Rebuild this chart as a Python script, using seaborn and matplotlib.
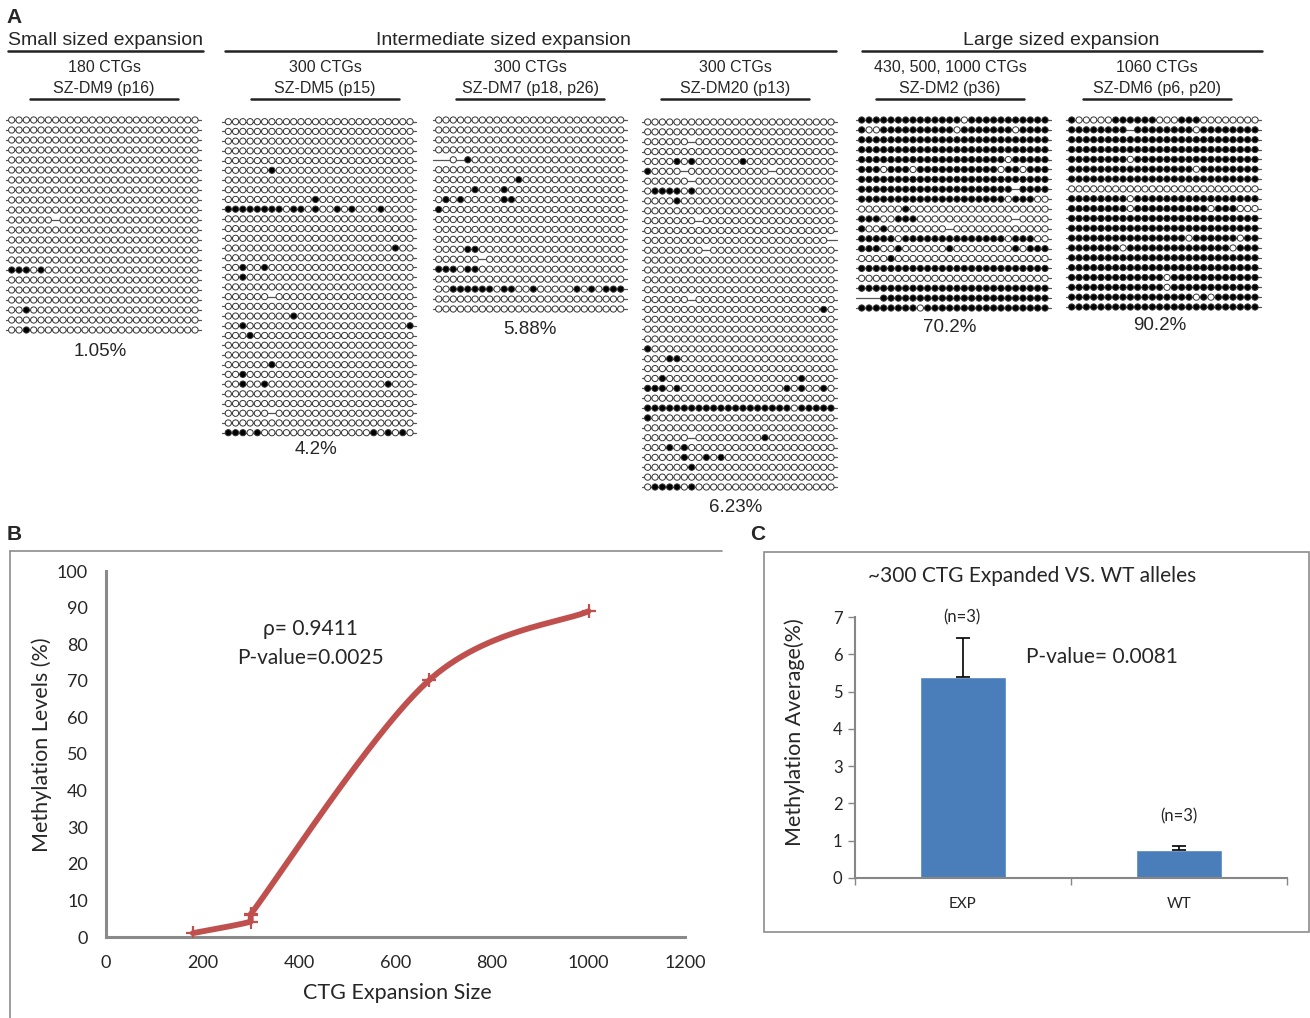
import numpy as np
import pandas as pd
import matplotlib
matplotlib.use("Agg")
import matplotlib.pyplot as plt
from matplotlib.patches import Rectangle
import seaborn as sns

sns.set_style("white")
plt.rcParams["font.family"] = ["Liberation Sans", "DejaVu Sans"]

# ---------------- panel A: bisulfite clones ----------------
# '#' methylated CpG, '.' unmethylated CpG, '-' no data (line only)
O = "....." "....." "....." "....." "....." "."
F = "#####" "#####" "#####" "#####" "#####" "#"
M6 = "....." ".-..." "....." "....." "....." "."

dm9 = [
    O, O, O, O, O, O, O, O, O, O,
    M6,
    O, O, O, O,
    "###.#" "....." "....." "....." "....." ".",
    O, O, O,
    "..#.." "....." "....." "....." "....." ".",
    O,
    "..#.." "....." "....." "....." "....." ".",
]

dm5 = [
    O, O, O, O, O,
    "....." ".#..." "....." "....." "....." ".",
    O, O,
    "....." "....." "..#.." "....." "....." ".",
    "#####" "###.#" "#.#.." "#.#.." ".#..." ".",
    O, O, O,
    "....." "....." "....." "....." "...#." ".",
    O,
    "..#.." "#...." "....." "....." "....." ".",
    "..#.." "....." "....." "....." "....." ".",
    O,
    M6,
    O,
    "....." "....#" "....." "....." "....." ".",
    "..#.." "....." "....." "....." "....." "#",
    "...#." "....." "....." "....." "....." ".",
    O, O,
    "....." ".#..." "....." "....." "....." ".",
    "..#.." "....." "....." "....." "....." ".",
    "..#.." "#...." "....." "....." "..#.." ".",
    O, O,
    M6,
    O,
    "###.#" "....." "....." "....." "#.#.#" ".",
]

dm7 = [
    O, O, O, O,
    "--.-#" "....." "....." "....." "....." ".",
    O,
    "....." "....." ".#..." "....." "....." ".",
    "....." "#...#" "....." "....." "....." ".",
    ".#.#." "....#" "#...." "....." "....." ".",
    "#...." "....." "....." "....." "....." ".",
    O, O, O,
    "....#" "#...." "....." "....." "....." ".",
    M6,
    "###.#" "#...." "....." "....." "....." ".",
    O,
    "..###" "###.#" "#..#." "....#" ".#.##" "#",
    O, O,
]

dm20 = [
    O, O,
    M6,
    O,
    "....#" ".#..." "...#." "....." "....." ".",
    "#...." "-...." "....." "..-.." "....." ".",
    M6,
    ".####" ".#..." "....." "....." "....." ".",
    "....#" "....." "....." "....." "....." ".",
    O,
    "....." "..-.." "....." "....." "....." ".",
    O,
    "....." "....." "....." "....." "....." "-",
    "....." "...-." "....." "....." "....." ".",
    O, O, O, O,
    M6,
    "....." "....." "....." "....." "....#" ".",
    O, O, O,
    "#...." "....." "....." "....." "....." ".",
    "...##" "....." "....." "....." "....." ".",
    O,
    "..#.." "....." "....." "....." ".#..." ".",
    "###.#" "....." "....." "....#" ".#..#" ".",
    O,
    "#####" "#####" "#####" "#####" ".####" "#",
    "#...." "....." "....." "....." "....." ".",
    O,
    "....." ".-..." "....." ".#..." "....." ".",
    "...#." "#...." "....." "....." "....." ".",
    "....." "#..#." "#...." "....." "....." ".",
    "....." ".#..." "....." "....." "....." ".",
    O,
    ".####" ".#..." "....." "....." "....." ".",
]

dm2 = [
    "#####" "#####" "####." "#####" "#####" "#",
    "#..##" "#####" "###.#" "#####" "#.###" "#",
    F, F,
    "#####" "#####" "#####" "#####" ".####" "#",
    "###.#" "##.##" "#####" "####." "##.##" "#",
    F,
    "#####" "#####" "#####" "#####" "#-###" "#",
    "#####" "#####" "#####" "#####" ".###." ".",
    "....." ".#..." "....." "....." "....." ".",
    "###.." "###.." "....." "....." ".-..." ".",
    "#..#." "....." "..-.." "....." "....." ".",
    "#####" ".####" "#####" "#####" ".###." ".",
    "###.." "#...." "..#.." "....." ".#.##" "#",
    "....#" "....." "....." "....." "....." ".",
    F, O, F,
    "---##" "#####" "#####" "#####" "#####" "#",
    "#####" "###.#" "#####" "#####" "#####" "#",
]

dm6 = [
    "#...." ".####" "##..." "###.." "....." ".",
    "#####" "###-#" "#####" "##.##" "#####" "#",
    F, F,
    "#####" "###.#" "#####" "#####" "#####" "#",
    "#####" "#####" "#####" "##.##" "#####" "#",
    F, O,
    "#####" "###.#" "#####" "#####" "#####" "#",
    "#####" "###.#" "#####" "####." "###.." ".",
    F, F,
    "#####" "#####" "#####" "#.###" "###.#" "#",
    "#####" "##.##" "#####" "#####" "##.##" "#",
    F, F,
    "#####" "#####" "###.#" "#####" "#####" "#",
    "#####" "#####" "###.#" "#####" "#####" "#",
    "#####" "#####" "#####" "##.#." "#####" "#",
    F,
]

clone_groups = [dm9, dm5, dm7, dm20, dm2, dm6]
group_pct = ["1.05%", "4.2%", "5.88%", "6.23%", "70.2%", "90.2%"]
group_ctg = ["180 CTGs", "300 CTGs", "300 CTGs", "300 CTGs", "430, 500, 1000 CTGs", "1060 CTGs"]
group_name = ["SZ-DM9 (p16)", "SZ-DM5 (p15)", "SZ-DM7 (p18, p26)", "SZ-DM20 (p13)",
              "SZ-DM2 (p36)", "SZ-DM6 (p6, p20)"]
size_classes = ["Small sized expansion", "Intermediate sized expansion", "Large sized expansion"]

# ---------------- panel B ----------------
ctg_size = [180, 300, 300, 300, 670, 1000]
meth_level = [1.05, 4.2, 5.88, 6.23, 70.2, 89.0]
rho_text = "\u03c1= 0.9411"
pval_b = "P-value=0.0025"

# ---------------- panel C ----------------
alleles = ["EXP", "WT"]
meth_avg = [5.4, 0.75]
meth_err = [1.05, 0.1]
n_labels = ["(n=3)", "(n=3)"]
pval_c = "P-value= 0.0081"
title_c = "~300 CTG Expanded VS. WT alleles"

bad = [i for g in clone_groups for i, r in enumerate(g) if len(r) != 26]
assert not bad, bad

W, H = 1310, 1018
fig = plt.figure(figsize=(W / 100, H / 100), dpi=100)


def px_axes(left, top, right, bottom):
    return fig.add_axes([left / W, 1 - bottom / H, (right - left) / W, (bottom - top) / H])


ov = px_axes(0, 0, W, H)
ov.set_xlim(0, W)
ov.set_ylim(H, 0)
ov.axis("off")

# panel labels
for lab, (x, y) in zip("ABC", [(14, 17), (14, 535), (758, 535)]):
    ov.text(x, y, lab, fontsize=15, weight="bold", ha="center", va="center")

# size class headers
for txt, (x, x0, x1), in zip(size_classes, [(105, 8, 203), (503, 225, 836), (1061, 862, 1262)]):
    ov.text(x, 40, txt, fontsize=14, ha="center", va="center")
    ov.plot([x0, x1], [51, 51], color="#222222", lw=1.8)

sub_cx = [104, 325, 530, 735, 950, 1157]
for cx, ctg, name in zip(sub_cx, group_ctg, group_name):
    ov.text(cx, 67, ctg, fontsize=11.5, ha="center", va="center")
    ov.text(cx, 88, name, fontsize=11.5, ha="center", va="center")
    ov.plot([cx - 74, cx + 74], [99, 99], color="#222222", lw=1.8)

pct_xy = [(100, 351), (316, 450), (530, 330), (736, 508), (950, 328), (1160, 326)]
for pct, (x, y) in zip(group_pct, pct_xy):
    ov.text(x, y, pct, fontsize=13.5, ha="center", va="center")

# x of first/last CpG, y of first/last clone (pixels)
group_box = [(11.7, 195, 120, 330), (228.3, 410, 121.7, 432.7), (438.7, 620.7, 120, 309),
             (647.7, 831, 122, 487), (861.7, 1045, 120, 308), (1071.7, 1255, 120, 307)]

for clones, (x0, x1, y0, y1) in zip(clone_groups, group_box):
    ncol = len(clones[0])
    nrow = len(clones)
    dx = (x1 - x0) / (ncol - 1)
    dy = (y1 - y0) / (nrow - 1)
    ax = px_axes(x0 - dx / 2, y0 - dy / 2, x1 + dx / 2, y1 + dy / 2)
    recs = [(c, r, s) for r, row in enumerate(clones) for c, s in enumerate(row) if s != "-"]
    df = pd.DataFrame(recs, columns=["site", "clone", "state"])
    for r in range(nrow):
        ax.plot([-0.8, ncol - 0.2], [r, r], color="#555555", lw=0.9, zorder=1, clip_on=False)
    sns.scatterplot(data=df, x="site", y="clone", hue="state",
                    palette={"#": "black", ".": "white"}, s=20, edgecolor="#333333",
                    linewidth=0.7, legend=False, ax=ax, zorder=2, clip_on=False)
    ax.set_xlim(-0.5, ncol - 0.5)
    ax.set_ylim(nrow - 0.5, -0.5)
    ax.axis("off")

# ---------------- panel B: smoothed scatter ----------------
ov.plot([10, 722], [551, 551], color="#8c8c8c", lw=1.2)
ov.plot([10, 10], [551, H], color="#8c8c8c", lw=1.2)

axb = px_axes(106, 571, 685, 937)
px = np.array(ctg_size, float)
py = np.array(meth_level, float)
t = np.linspace(0, 1, 60)[:, None]
seg = []
for i in range(len(px) - 1):
    a, b = max(i - 1, 0), min(i + 2, len(px) - 1)
    p0 = np.array([px[i], py[i]])
    p3 = np.array([px[i + 1], py[i + 1]])
    c1 = p0 + (p3 - np.array([px[a], py[a]])) / 6
    c2 = p3 - (np.array([px[b], py[b]]) - p0) / 6
    lo = np.minimum(p0, p3)
    hi = np.maximum(p0, p3)
    c1 = np.clip(c1, lo, hi)
    c2 = np.clip(c2, lo, hi)
    seg.append((1 - t) ** 3 * p0 + 3 * (1 - t) ** 2 * t * c1 + 3 * (1 - t) * t ** 2 * c2 + t ** 3 * p3)
curve = np.vstack(seg)
sns.lineplot(x=curve[:, 0], y=curve[:, 1], sort=False, estimator=None,
             color="#c0504d", lw=4.2, ax=axb)
sns.scatterplot(x=ctg_size, y=meth_level, marker="+", s=110, color="#c0504d",
                linewidth=1.6, ax=axb, zorder=3)
axb.set_xlim(0, 1200)
axb.set_ylim(0, 100)
axb.set_xticks(range(0, 1201, 200))
axb.set_yticks(range(0, 101, 10))
axb.tick_params(length=0, pad=13, labelsize=13)
for s in ["top", "right"]:
    axb.spines[s].set_visible(False)
for s in ["left", "bottom"]:
    axb.spines[s].set_color("#8a8a8a")
    axb.spines[s].set_linewidth(2.2)
for lbl in axb.get_xticklabels() + axb.get_yticklabels():
    lbl.set_fontfamily("Lato")
axb.patch.set_alpha(0)

ov.text(310, 629, rho_text, fontsize=15, ha="center", va="center", family=["Lato", "DejaVu Sans"])
ov.text(310, 658, pval_b, fontsize=15, ha="center", va="center", family="Lato")
ov.text(397, 993, "CTG Expansion Size", fontsize=15.5, ha="center", va="center", family="Lato")
ov.text(42, 745, "Methylation Levels (%)", fontsize=15.5, ha="center", va="center",
        rotation=90, family="Lato")

# ---------------- panel C: bar chart ----------------
ov.add_patch(Rectangle((764, 552), 545, 380, fill=False, ec="#8c8c8c", lw=1.2))

axc = px_axes(855, 617, 1287, 878)
sns.barplot(x=alleles, y=meth_avg, color="#4a7ebb", saturation=1, width=0.4, ax=axc)
axc.errorbar(range(len(alleles)), meth_avg, yerr=[[0] * len(meth_err), meth_err], fmt="none",
             ecolor="black", elinewidth=1.2, capsize=5, capthick=1.2, zorder=3)
axc.set_xlim(-0.5, 1.5)
axc.set_ylim(0, 7)
axc.set_yticks(range(8))
axc.set_xticks([-0.5, 0.5, 1.5], minor=True)
axc.tick_params(axis="y", left=True, length=5, width=1, color="#868686", labelsize=12, pad=4)
axc.tick_params(axis="x", which="major", length=0, labelsize=11, pad=14)
axc.tick_params(axis="x", which="minor", bottom=True, length=5, width=1, color="#868686")
axc.set_xlabel("")
axc.set_ylabel("")
for s in ["top", "right"]:
    axc.spines[s].set_visible(False)
for s in ["left", "bottom"]:
    axc.spines[s].set_color("#868686")
    axc.spines[s].set_linewidth(1.5)
for lbl in axc.get_xticklabels() + axc.get_yticklabels():
    lbl.set_fontfamily("Lato")
axc.patch.set_alpha(0)

ov.text(1032, 576, title_c, fontsize=15, ha="center", va="center", family="Lato")
for txt, (x, y) in zip(n_labels, [(962, 617), (1179, 816)]):
    ov.text(x, y, txt, fontsize=12, ha="center", va="center", family="Lato")
ov.text(1102, 657, pval_c, fontsize=15, ha="center", va="center", family="Lato")
ov.text(795, 732, "Methylation Average(%)", fontsize=15.5, ha="center", va="center",
        rotation=90, family="Lato")

fig.savefig("out.png", dpi=100)
